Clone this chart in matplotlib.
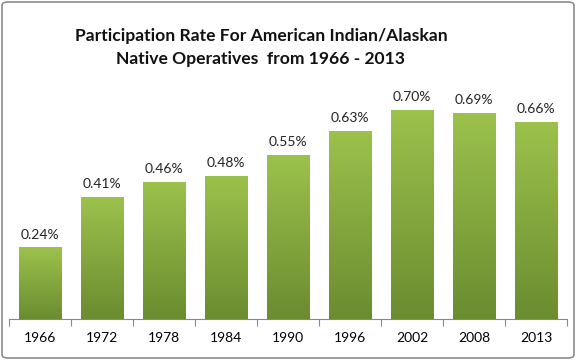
import matplotlib
matplotlib.use("Agg")
import matplotlib.pyplot as plt
import numpy as np
from matplotlib.patches import FancyBboxPatch
from matplotlib.colors import LinearSegmentedColormap

years = ["1966", "1972", "1978", "1984", "1990", "1996", "2002", "2008", "2013"]
rates = [0.24, 0.41, 0.46, 0.48, 0.55, 0.63, 0.70, 0.69, 0.66]

plt.rcParams['font.family'] = ['Lato', 'DejaVu Sans']

fig = plt.figure(figsize=(5.76, 3.6), dpi=100)
ax = fig.add_axes([9/576, 41/360, 558/576, 239/360])

x = np.arange(len(years))
bars = ax.bar(x, rates, width=0.68, color='#8fb043', zorder=2)

cmap = LinearSegmentedColormap.from_list('g', ['#6b8c30', '#9cc24c'])
grad = np.linspace(0, 1, 256).reshape(-1, 1)
for b in bars:
    bx, by = b.get_x(), b.get_y()
    w, h = b.get_width(), b.get_height()
    im = ax.imshow(grad, cmap=cmap, origin='lower', aspect='auto',
                   extent=(bx, bx + w, by, by + h), zorder=3)
    im.set_clip_path(b)

for xi, r in zip(x, rates):
    ax.text(xi, r + 0.022, f"{r:.2f}%", ha='center', va='bottom',
            fontsize=10, color='#222222')

ax.set_xlim(-0.5, len(years) - 0.5)
ax.set_ylim(0, 0.8)
ax.set_xticks(np.arange(-0.5, len(years), 1.0))
ax.set_xticklabels([])
ax.set_xticks(x, minor=True)
ax.set_xticklabels(years, minor=True, fontsize=10)
ax.tick_params(axis='x', which='major', length=5, color='#888888', direction='out')
ax.tick_params(axis='x', which='minor', length=0, pad=9)
ax.set_yticks([])
for s in ['top', 'right', 'left']:
    ax.spines[s].set_visible(False)
ax.spines['bottom'].set_color('#888888')

fig.text(261/576, 0.900, "Participation Rate For American Indian/Alaskan",
         ha='center', va='center', fontsize=12.6, fontweight='bold', color='#111111')
fig.text(261/576, 0.837, "Native Operatives  from 1966 - 2013",
         ha='center', va='center', fontsize=12.6, fontweight='bold', color='#111111')

border = FancyBboxPatch((2/576, 2/360), 572/576, 356/360,
                        boxstyle="round,pad=0,rounding_size=0.01",
                        transform=fig.transFigure, fill=False,
                        edgecolor='#8c8c8c', linewidth=1.2)
fig.patches.append(border)

fig.savefig("out.png", dpi=100)
